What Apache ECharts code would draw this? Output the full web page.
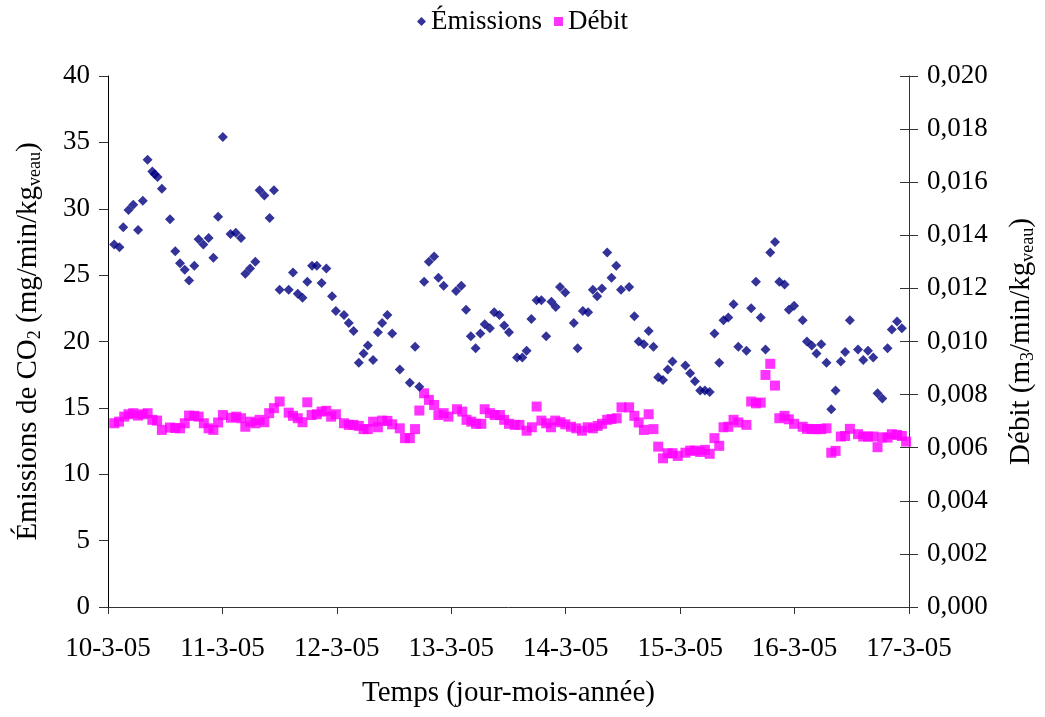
<!DOCTYPE html>
<html>
<head>
<meta charset="utf-8">
<script src="https://cdn.jsdelivr.net/npm/echarts@6/dist/echarts.min.js"></script>
<style>
  html, body { margin: 0; padding: 0; background: #fff; }
  #chart { width: 1045px; height: 717px; }
</style>
</head>
<body>
<div id="chart"></div>
<script>
// Day labels on the time axis (one tick every 24 h)
const dayLabels = ['10-3-05', '11-3-05', '12-3-05', '13-3-05', '14-3-05', '15-3-05', '16-3-05', '17-3-05'];

// CO2 emissions: [hours since 10-3-05 00:00, mg/min/kg veau]
const emissions = [
  [1.3, 27.3], [2.4, 27.1], [3.2, 28.6], [4.3, 29.9], [5.3, 30.3], [6.3, 28.4], [7.3, 30.6], [8.3, 33.7],
  [9.3, 32.8], [9.8, 32.6], [10.4, 32.4], [11.3, 31.5], [13.0, 29.2], [14.1, 26.8], [15.1, 25.9], [16.1, 25.4],
  [17.0, 24.6], [18.1, 25.7], [19.0, 27.7], [20.0, 27.3], [21.1, 27.8], [22.1, 26.3], [23.1, 29.4], [24.1, 35.4],
  [25.7, 28.1], [26.8, 28.2], [27.9, 27.8], [28.8, 25.1], [29.8, 25.5], [30.9, 26.0], [31.8, 31.4], [32.8, 31.0],
  [33.9, 29.3], [34.8, 31.4], [36.0, 23.9], [37.9, 23.9], [38.8, 25.2], [39.8, 23.6], [40.8, 23.3], [41.8, 24.5],
  [42.8, 25.7], [43.8, 25.7], [44.8, 24.4], [45.8, 25.5], [47.0, 23.4], [47.8, 22.3], [49.5, 22.0], [50.5, 21.4],
  [51.5, 20.8], [52.6, 18.4], [53.6, 19.1], [54.5, 19.7], [55.6, 18.6], [56.6, 20.7], [57.5, 21.4], [58.6, 22.0],
  [59.6, 20.6], [61.2, 17.9], [63.3, 16.9], [64.4, 19.6], [65.3, 16.6], [66.3, 24.5], [67.3, 26.0], [68.4, 26.4],
  [69.3, 24.8], [70.4, 24.2], [73.0, 23.8], [74.1, 24.2], [75.1, 22.4], [76.1, 20.4], [77.1, 19.5], [78.1, 20.6],
  [79.0, 21.3], [80.1, 21.0], [81.0, 22.2], [82.1, 22.0], [83.1, 21.2], [84.1, 20.7], [85.8, 18.8], [86.9, 18.8],
  [87.8, 19.3], [88.8, 21.7], [89.9, 23.1], [90.9, 23.1], [91.9, 20.4], [93.0, 23.0], [93.9, 22.6], [94.8, 24.1],
  [95.9, 23.7], [97.7, 21.4], [98.5, 19.5], [99.6, 22.3], [100.7, 22.2], [101.7, 23.9], [102.6, 23.4], [103.6, 24.0],
  [104.7, 26.7], [105.6, 24.8], [106.6, 25.7], [107.6, 23.9], [109.3, 24.1], [110.4, 21.9], [111.3, 20.0], [112.4, 19.8],
  [113.4, 20.8], [114.4, 19.6], [115.4, 17.3], [116.4, 17.1], [117.4, 17.9], [118.4, 18.5], [121.1, 18.2], [122.1, 17.6],
  [123.1, 17.0], [124.2, 16.3], [125.2, 16.3], [126.2, 16.2], [127.2, 20.6], [128.2, 18.4], [129.1, 21.6], [130.1, 21.8],
  [131.2, 22.8], [132.2, 19.6], [133.9, 19.3], [134.9, 22.5], [135.9, 24.5], [136.9, 21.8], [137.9, 19.4], [138.9, 26.7],
  [139.9, 27.5], [140.8, 24.5], [141.9, 24.3], [142.8, 22.4], [143.9, 22.7], [145.7, 21.6], [146.6, 20.0], [147.6, 19.7],
  [148.6, 19.1], [149.6, 19.8], [150.7, 18.4], [151.7, 14.9], [152.6, 16.3], [153.7, 18.5], [154.6, 19.2], [155.6, 21.6],
  [157.3, 19.4], [158.4, 18.6], [159.4, 19.3], [160.5, 18.8], [161.4, 16.1], [162.4, 15.7], [163.5, 19.5], [164.4, 20.9],
  [165.5, 21.5], [166.5, 21.0]
];

// Air flow: [hours since 10-3-05 00:00, m3/min/kg veau]
const debit = [
  [1.3, 0.00692], [2.3, 0.00698], [3.4, 0.00717], [4.3, 0.00726], [5.3, 0.00730], [6.3, 0.00721], [7.3, 0.00726], [8.3, 0.00730],
  [9.3, 0.00705], [10.3, 0.00702], [11.3, 0.00667], [13.0, 0.00676], [14.1, 0.00674], [15.1, 0.00673], [16.1, 0.00692], [17.0, 0.00721],
  [18.1, 0.00720], [19.0, 0.00717], [20.1, 0.00692], [21.1, 0.00673], [22.1, 0.00667], [23.1, 0.00695], [24.1, 0.00723], [25.8, 0.00713],
  [26.9, 0.00717], [27.9, 0.00711], [28.8, 0.00679], [29.8, 0.00698], [30.9, 0.00692], [31.8, 0.00705], [32.8, 0.00696], [33.8, 0.00730],
  [34.8, 0.00749], [36.0, 0.00774], [37.9, 0.00732], [38.8, 0.00720], [39.8, 0.00711], [40.8, 0.00696], [41.8, 0.00771], [42.7, 0.00723],
  [43.8, 0.00726], [44.8, 0.00736], [45.8, 0.00739], [46.8, 0.00717], [47.8, 0.00726], [49.5, 0.00692], [50.5, 0.00686], [51.5, 0.00686],
  [52.6, 0.00682], [53.6, 0.00670], [54.5, 0.00670], [55.6, 0.00698], [56.6, 0.00677], [57.5, 0.00702], [58.6, 0.00701], [59.6, 0.00688],
  [61.2, 0.00673], [62.3, 0.00636], [63.3, 0.00636], [64.4, 0.00670], [65.3, 0.00740], [66.3, 0.00805], [67.3, 0.00780], [68.4, 0.00761],
  [69.3, 0.00723], [70.4, 0.00730], [71.4, 0.00717], [73.2, 0.00745], [74.3, 0.00736], [75.2, 0.00705], [76.2, 0.00698], [77.2, 0.00690],
  [78.3, 0.00690], [79.0, 0.00745], [80.1, 0.00730], [81.1, 0.00723], [82.2, 0.00723], [83.1, 0.00705], [84.1, 0.00690], [85.3, 0.00686],
  [86.3, 0.00686], [87.8, 0.00664], [88.9, 0.00677], [89.9, 0.00755], [90.9, 0.00702], [91.9, 0.00692], [92.9, 0.00677], [93.8, 0.00702],
  [94.9, 0.00696], [95.9, 0.00688], [97.1, 0.00679], [98.2, 0.00673], [99.4, 0.00664], [100.6, 0.00677], [101.7, 0.00673], [102.7, 0.00682],
  [103.6, 0.00690], [104.7, 0.00705], [105.6, 0.00708], [106.7, 0.00711], [107.7, 0.00752], [109.3, 0.00752], [110.4, 0.00720], [111.3, 0.00695],
  [112.4, 0.00667], [113.4, 0.00726], [114.4, 0.00670], [115.4, 0.00604], [116.4, 0.00560], [117.4, 0.00579], [118.4, 0.00579], [119.5, 0.00569],
  [121.1, 0.00581], [122.1, 0.00589], [123.1, 0.00589], [124.2, 0.00584], [125.2, 0.00592], [126.2, 0.00577], [127.2, 0.00636], [128.2, 0.00607],
  [129.1, 0.00677], [130.1, 0.00679], [131.2, 0.00705], [132.2, 0.00695], [133.9, 0.00686], [134.9, 0.00774], [135.9, 0.00767], [136.9, 0.00770],
  [137.9, 0.00874], [138.9, 0.00916], [139.9, 0.00834], [140.8, 0.00711], [141.9, 0.00720], [142.8, 0.00707], [143.9, 0.00690], [145.7, 0.00679],
  [146.6, 0.00671], [147.6, 0.00670], [148.6, 0.00670], [149.6, 0.00670], [150.7, 0.00673], [151.7, 0.00581], [152.6, 0.00588], [153.7, 0.00642],
  [154.6, 0.00644], [155.6, 0.00671], [157.3, 0.00651], [158.4, 0.00642], [159.4, 0.00642], [160.5, 0.00642], [161.4, 0.00602], [162.4, 0.00639],
  [163.5, 0.00638], [164.4, 0.00651], [165.5, 0.00648], [166.5, 0.00644], [167.4, 0.00623]
];

const FONT = "'Liberation Serif', 'Times New Roman', serif";
const TICK_FS = 27;   // tick labels
const TITLE_FS = 29;  // axis titles
const LEGEND_FS = 27;
const axisColor = '#333';

const chart = echarts.init(document.getElementById('chart'), null, { renderer: 'canvas' });

const nameRich = {
  n: { fontFamily: FONT, fontSize: TITLE_FS, color: '#000', lineHeight: 32 },
  s: { fontFamily: FONT, fontSize: 18, color: '#000', lineHeight: 8, verticalAlign: 'bottom' }
};

chart.setOption({
  animation: false,
  backgroundColor: '#fff',
  textStyle: { fontFamily: FONT },
  legend: {
    top: 3,
    left: 'center',
    itemGap: 12,
    itemWidth: 9,
    itemHeight: 9,
    textStyle: { fontFamily: FONT, fontSize: LEGEND_FS, color: '#000' },
    data: [
      { name: 'Émissions', icon: 'diamond', itemStyle: { color: '#000080' } },
      { name: 'Débit', icon: 'rect', itemStyle: { color: '#FF00FF' } }
    ]
  },
  grid: { left: 108, right: 135, top: 76, bottom: 110, containLabel: false },
  xAxis: {
    type: 'value',
    min: 0,
    max: 168,
    interval: 24,
    name: 'Temps (jour-mois-année)',
    nameLocation: 'middle',
    nameGap: 72,
    nameTextStyle: { fontFamily: FONT, fontSize: TITLE_FS, color: '#000' },
    axisLine: { lineStyle: { color: axisColor, width: 1 } },
    axisTick: { show: true, length: 7, inside: false, lineStyle: { color: axisColor } },
    axisLabel: {
      margin: 28,
      fontFamily: FONT, fontSize: TICK_FS, color: '#000',
      formatter: v => dayLabels[Math.round(v / 24)] || ''
    },
    splitLine: { show: false }
  },
  yAxis: [
    {
      type: 'value',
      position: 'left',
      min: 0, max: 40, interval: 5,
      name: '{n|Émissions de CO}{s|2}{n| (mg/min/kg}{s|veau}{n|)}',
      nameLocation: 'middle',
      nameRotate: 90,
      nameGap: 64,
      nameTextStyle: { rich: nameRich },
      axisLine: { show: true, lineStyle: { color: '#000', width: 1 } },
      axisTick: { show: true, length: 9, lineStyle: { color: axisColor } },
      axisLabel: { margin: 18, fontFamily: FONT, fontSize: TICK_FS, color: '#000' },
      splitLine: { show: false }
    },
    {
      type: 'value',
      position: 'right',
      min: 0, max: 0.02, interval: 0.002,
      name: '{n|Débit (m}{s|3}{n|/min/kg}{s|veau}{n|)}',
      nameLocation: 'middle',
      nameRotate: 90,
      nameGap: 96,
      nameTextStyle: { rich: nameRich },
      axisLine: { show: true, lineStyle: { color: axisColor, width: 1 } },
      axisTick: { show: true, length: 9, lineStyle: { color: axisColor } },
      axisLabel: {
        margin: 18, fontFamily: FONT, fontSize: TICK_FS, color: '#000',
        formatter: v => v.toFixed(3).replace('.', ',')
      },
      splitLine: { show: false }
    },
    {
      // inner half of the crossing tick marks on the right axis
      type: 'value',
      position: 'right',
      min: 0, max: 0.02, interval: 0.002,
      axisLine: { show: false },
      axisTick: { show: true, inside: true, length: 9, lineStyle: { color: axisColor } },
      axisLabel: { show: false },
      splitLine: { show: false }
    }
  ],
  series: [
    {
      name: 'Débit',
      type: 'scatter',
      yAxisIndex: 1,
      symbol: 'rect',
      symbolSize: 10,
      itemStyle: { color: '#FF00FF' },
      data: debit
    },
    {
      name: 'Émissions',
      type: 'scatter',
      yAxisIndex: 0,
      symbol: 'diamond',
      symbolSize: 10,
      itemStyle: { color: '#000080' },
      data: emissions
    }
  ]
});
</script>
</body>
</html>
